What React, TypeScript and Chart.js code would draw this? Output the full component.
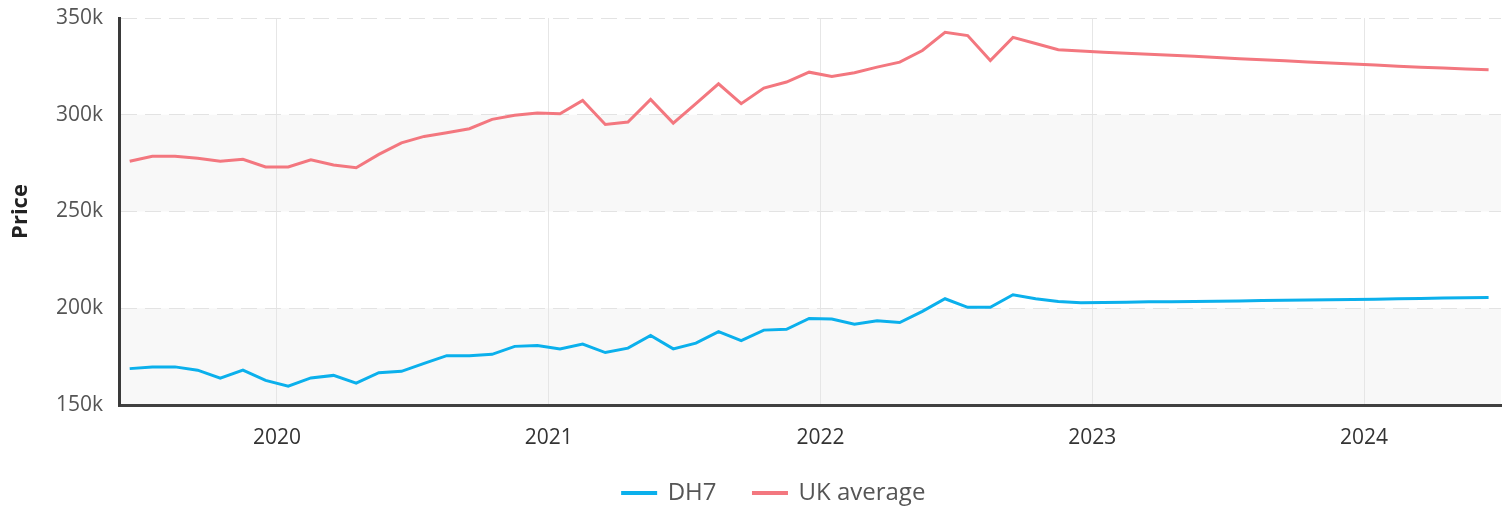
import React, { useEffect, useRef } from "react";
import { Chart, registerables } from "chart.js";

Chart.register(...registerables);

// Monthly observations (mid-month), June 2019 – June 2024
const months = [
  "2019-06", "2019-07", "2019-08", "2019-09", "2019-10", "2019-11", "2019-12",
  "2020-01", "2020-02", "2020-03", "2020-04", "2020-05", "2020-06", "2020-07", "2020-08", "2020-09", "2020-10", "2020-11", "2020-12",
  "2021-01", "2021-02", "2021-03", "2021-04", "2021-05", "2021-06", "2021-07", "2021-08", "2021-09", "2021-10", "2021-11", "2021-12",
  "2022-01", "2022-02", "2022-03", "2022-04", "2022-05", "2022-06", "2022-07", "2022-08", "2022-09", "2022-10", "2022-11", "2022-12",
  "2023-01", "2023-02", "2023-03", "2023-04", "2023-05", "2023-06", "2023-07", "2023-08", "2023-09", "2023-10", "2023-11", "2023-12",
  "2024-01", "2024-02", "2024-03", "2024-04", "2024-05", "2024-06",
];

// Prices in thousands of pounds
const dh7 = [
  168.8, 169.7, 169.7, 168.0, 163.9, 168.0, 162.7,
  159.7, 164.0, 165.3, 161.3, 166.7, 167.4, 171.5, 175.5, 175.5, 176.2, 180.3, 180.8,
  178.9, 181.5, 177.1, 179.4, 185.9, 179.0, 182.0, 187.9, 183.3, 188.7, 189.1, 194.7,
  194.4, 191.7, 193.5, 192.6, 198.4, 204.9, 200.5, 200.5, 207.0, 204.9, 203.5, 202.9,
  203.0, 203.1, 203.3, 203.4, 203.5, 203.6, 203.8, 204.0, 204.1, 204.2, 204.4, 204.5,
  204.6, 204.9, 205.1, 205.3, 205.4, 205.5,
];

const ukAverage = [
  276.0, 278.5, 278.5, 277.5, 276.0, 277.0, 273.0,
  273.0, 276.7, 274.0, 272.6, 279.5, 285.5, 288.8, 290.7, 292.8, 297.6, 299.7, 300.9,
  300.5, 307.4, 295.0, 296.2, 307.9, 295.7, 305.7, 316.0, 305.7, 313.8, 316.9, 322.0,
  319.8, 321.7, 324.6, 327.2, 333.2, 342.6, 340.9, 328.0, 340.0, 336.8, 333.6, 332.9,
  332.3, 331.8, 331.3, 330.8, 330.2, 329.6, 329.0, 328.4, 327.9, 327.3, 326.8, 326.2,
  325.7, 325.1, 324.6, 324.1, 323.6, 323.2,
];

const yearTicks = [2020, 2021, 2022, 2023, 2024];
const priceTicks = [150, 200, 250, 300, 350];

const xMin = 2019.419;
const xMax = 2024.504;

function monthToX(m: string): number {
  const [y, mo] = m.split("-").map(Number);
  return y + (mo - 0.5) / 12;
}

const FONT = "'Open Sans', 'Noto Sans', sans-serif";

const bandsPlugin = {
  id: "bands",
  beforeDraw(chart: any) {
    const { ctx, chartArea, scales } = chart;
    const y = scales.y;
    ctx.save();
    ctx.fillStyle = "#f8f8f8";
    for (let i = 0; i < priceTicks.length - 1; i += 2) {
      const top = y.getPixelForValue(priceTicks[i + 1]);
      const bottom = y.getPixelForValue(priceTicks[i]);
      ctx.fillRect(chartArea.left, top, chartArea.right - chartArea.left, bottom - top);
    }
    ctx.restore();
  },
};

export default function App() {
  const canvasRef = useRef<HTMLCanvasElement | null>(null);

  useEffect(() => {
    document.body.style.margin = "0";
    const canvas = canvasRef.current;
    if (!canvas) return;
    const xs = months.map(monthToX);
    const chart = new Chart(canvas, {
      type: "line",
      data: {
        datasets: [
          {
            label: "DH7",
            data: xs.map((x, i) => ({ x, y: dh7[i] })),
            borderColor: "#0bb0ec",
            backgroundColor: "#0bb0ec",
            borderWidth: 3,
            pointRadius: 0,
            tension: 0,
          },
          {
            label: "UK average",
            data: xs.map((x, i) => ({ x, y: ukAverage[i] })),
            borderColor: "#f3777f",
            backgroundColor: "#f3777f",
            borderWidth: 3,
            pointRadius: 0,
            tension: 0,
          },
        ],
      },
      options: {
        animation: false,
        responsive: true,
        maintainAspectRatio: false,
        layout: { padding: { left: 47, right: 9, top: 18, bottom: -5 } },
        plugins: {
          tooltip: { enabled: false },
          legend: {
            position: "bottom",
            labels: {
              boxWidth: 33,
              boxHeight: 1,
              padding: 37,
              color: "#555",
              font: { family: FONT, size: 24 },
            },
          },
        },
        scales: {
          x: {
            type: "linear",
            min: xMin,
            max: xMax,
            afterBuildTicks: (scale: any) => {
              scale.ticks = yearTicks.map((v) => ({ value: v }));
            },
            afterFit: (scale: any) => {
              scale.height = 39;
              scale.paddingLeft = 0;
              scale.paddingRight = 0;
            },
            ticks: {
              callback: (v: any) => String(v),
              color: "#333",
              font: { family: FONT, size: 21 },
              padding: 20,
              maxRotation: 0,
            },
            grid: { color: "#e6e6e6", lineWidth: 1, drawTicks: false },
            border: { display: true, color: "#404040", width: 3 },
          },
          y: {
            min: 150,
            max: 350,
            afterBuildTicks: (scale: any) => {
              scale.ticks = priceTicks.map((v) => ({ value: v }));
            },
            afterFit: (scale: any) => {
              scale.width = 72;
              scale.paddingTop = 0;
              scale.paddingBottom = 0;
            },
            ticks: {
              callback: (v: any) => v + "k",
              color: "#555",
              font: { family: FONT, size: 21 },
              padding: 16,
            },
            grid: { color: "#e3e3e3", lineWidth: 1, drawTicks: false },
            border: { display: true, color: "#3a3a3a", width: 3, dash: [16, 8] },
            title: {
              display: true,
              text: "Price",
              color: "#222",
              font: { family: FONT, size: 22, weight: "bold" },
              padding: { top: -39, bottom: 0 },
            },
          },
        },
      },
      plugins: [bandsPlugin],
    } as any);
    return () => chart.destroy();
  }, []);

  return (
    <div style={{ position: "relative", width: 1510, height: 510 }}>
      <canvas ref={canvasRef} />
    </div>
  );
}
